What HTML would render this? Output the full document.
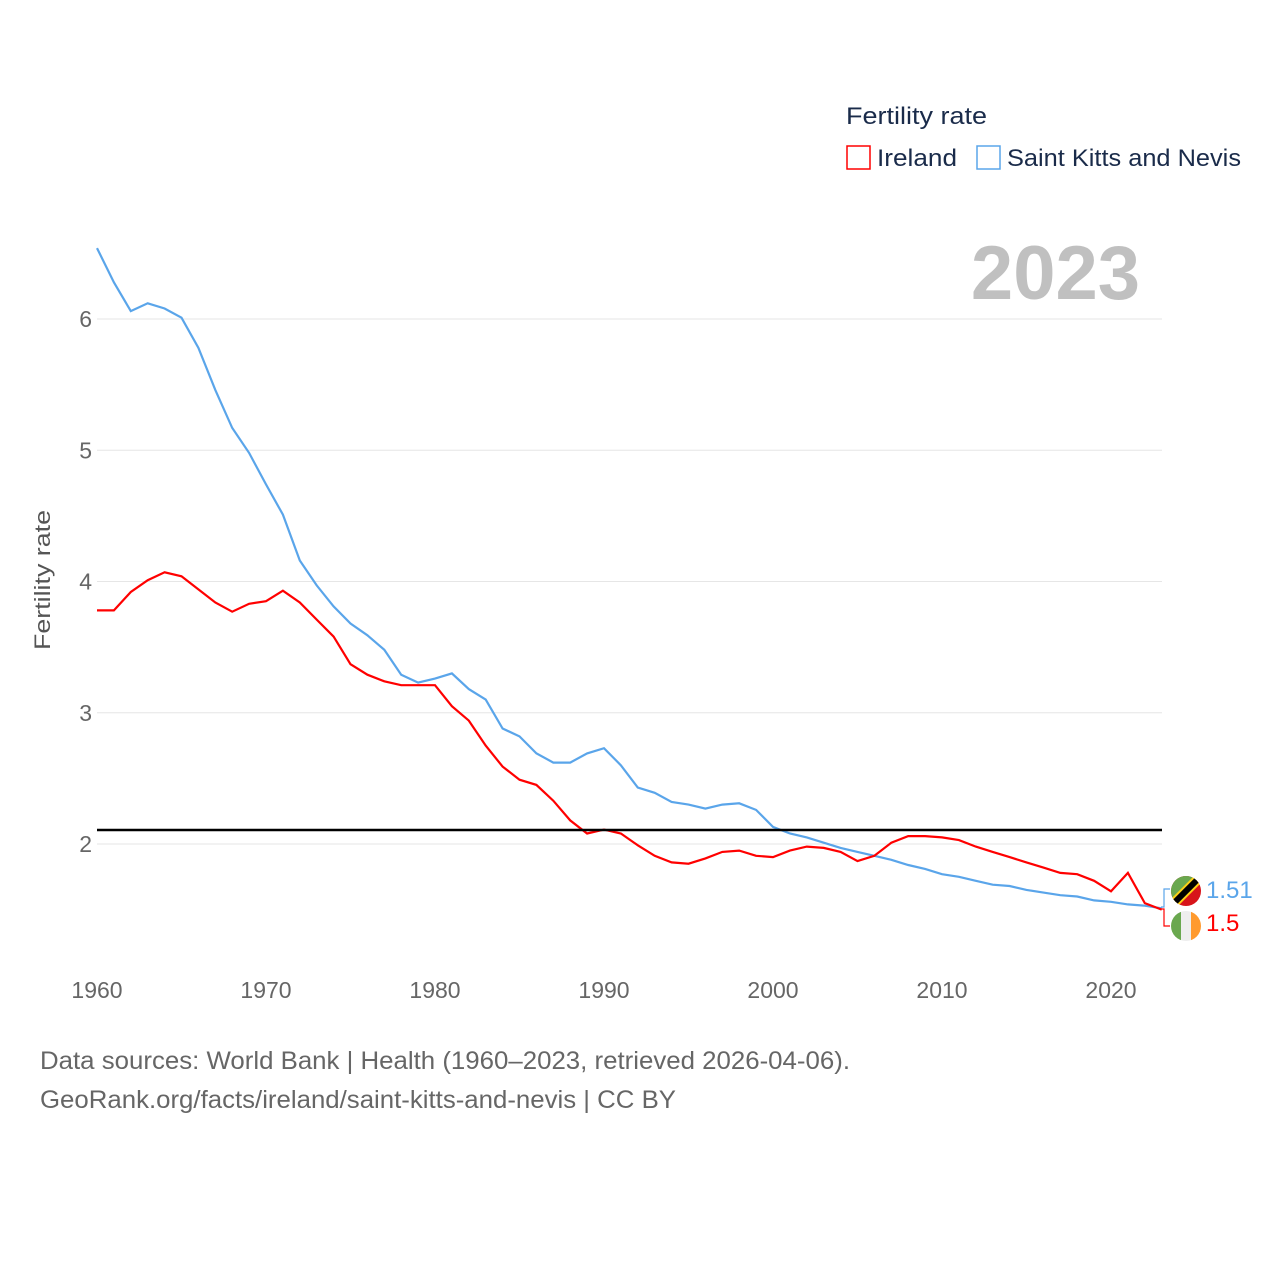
<!DOCTYPE html>
<html><head><meta charset="utf-8"><style>
body{margin:0;background:#fff;font-family:"Liberation Sans",sans-serif;}
svg text{font-family:"Liberation Sans",sans-serif;}
</style></head><body>
<svg width="1280" height="1280" viewBox="0 0 1280 1280">
<g id="grid"></g>
<text x="50" y="580" font-size="22" fill="#555" transform="rotate(-90 50 580)" text-anchor="middle" textLength="140" lengthAdjust="spacingAndGlyphs" dy="0">Fertility rate</text>
<text x="1140" y="299" font-size="76" font-weight="bold" fill="#c0c0c0" text-anchor="end">2023</text>
<text x="846" y="124" font-size="24" fill="#1a2b4a" textLength="141" lengthAdjust="spacingAndGlyphs">Fertility rate</text>
<g><rect x="847" y="146" width="23" height="23" fill="none" stroke="#f00" stroke-width="1.5"/><text x="877" y="166" font-size="24" fill="#1a2b4a" textLength="80" lengthAdjust="spacingAndGlyphs">Ireland</text></g>
<g><rect x="977" y="146" width="23" height="23" fill="none" stroke="#5aa5ea" stroke-width="1.5"/><text x="1007" y="166" font-size="24" fill="#1a2b4a" textLength="234" lengthAdjust="spacingAndGlyphs">Saint Kitts and Nevis</text></g>
<g id="series"></g>
<line x1="97" x2="1162" y1="830" y2="830" stroke="#000" stroke-width="2.5"/>
<g>
<path d="M1161 907 H1164 V889 H1170" fill="none" stroke="#5aa5ea" stroke-width="1.2"/>
<path d="M1161 909 H1164 V926 H1170" fill="none" stroke="#f00" stroke-width="1.2"/>
<defs><clipPath id="c1"><circle cx="1186" cy="891" r="15"/></clipPath><clipPath id="c2"><circle cx="1186" cy="926" r="15"/></clipPath></defs>
<g clip-path="url(#c1)"><rect x="1170" y="875" width="32" height="32" fill="#d7141a"/><polygon points="1170,875 1202,875 1170,907" fill="#6aa84f"/><line x1="1172" y1="905" x2="1200" y2="877" stroke="#fcd116" stroke-width="10"/><line x1="1172" y1="905" x2="1200" y2="877" stroke="#000" stroke-width="6"/></g>
<g clip-path="url(#c2)"><rect x="1170" y="910" width="11" height="32" fill="#6aa84f"/><rect x="1181" y="910" width="10" height="32" fill="#eee"/><rect x="1191" y="910" width="11" height="32" fill="#ff9a2e"/></g>
<text x="1206" y="898" font-size="24" fill="#5aa5ea">1.51</text>
<text x="1206" y="931" font-size="24" fill="#f00">1.5</text>
</g>
<text x="40" y="1069" font-size="25" fill="#666" textLength="810" lengthAdjust="spacingAndGlyphs">Data sources: World Bank | Health (1960–2023, retrieved 2026-04-06).</text>
<text x="40" y="1108" font-size="25" fill="#666" textLength="636" lengthAdjust="spacingAndGlyphs">GeoRank.org/facts/ireland/saint-kitts-and-nevis | CC BY</text>
</svg>
<script>
const years=[];for(let y=1960;y<=2023;y++)years.push(y);
const yTicks=[2,3,4,5,6];
const xTicks=[1960,1970,1980,1990,2000,2010,2020];
const skn=[6.54,6.28,6.06,6.12,6.08,6.01,5.78,5.46,5.17,4.98,4.74,4.51,4.16,3.97,3.81,3.68,3.59,3.48,3.29,3.23,3.26,3.30,3.18,3.10,2.88,2.82,2.69,2.62,2.62,2.69,2.73,2.60,2.43,2.39,2.32,2.30,2.27,2.30,2.31,2.26,2.13,2.08,2.05,2.01,1.97,1.94,1.91,1.88,1.84,1.81,1.77,1.75,1.72,1.69,1.68,1.65,1.63,1.61,1.60,1.57,1.56,1.54,1.53,1.51];
const ireland=[3.78,3.78,3.92,4.01,4.07,4.04,3.94,3.84,3.77,3.83,3.85,3.93,3.84,3.71,3.58,3.37,3.29,3.24,3.21,3.21,3.21,3.05,2.94,2.75,2.59,2.49,2.45,2.33,2.18,2.08,2.11,2.08,1.99,1.91,1.86,1.85,1.89,1.94,1.95,1.91,1.90,1.95,1.98,1.97,1.94,1.87,1.91,2.01,2.06,2.06,2.05,2.03,1.98,1.94,1.90,1.86,1.82,1.78,1.77,1.72,1.64,1.78,1.55,1.50];
const X=y=>97+(y-1960)*16.9;
const Y=v=>844-(v-2)*131.25;
const NS='http://www.w3.org/2000/svg';
const grid=document.getElementById('grid');
yTicks.forEach(t=>{
 const l=document.createElementNS(NS,'line');
 l.setAttribute('x1',97);l.setAttribute('x2',1162);l.setAttribute('y1',Y(t));l.setAttribute('y2',Y(t));
 l.setAttribute('stroke','#e6e6e6');
 
 
 grid.appendChild(l);
 const tx=document.createElementNS(NS,'text');
 tx.setAttribute('x',92);tx.setAttribute('y',Y(t)+8);tx.setAttribute('text-anchor','end');
 tx.setAttribute('font-size','23');tx.setAttribute('fill','#666');tx.textContent=t;
 
 
 grid.appendChild(tx);
});
xTicks.forEach(t=>{
 const tx=document.createElementNS(NS,'text');
 tx.setAttribute('x',X(t));tx.setAttribute('y',998);tx.setAttribute('text-anchor','middle');
 tx.setAttribute('font-size','23');tx.setAttribute('fill','#666');tx.textContent=t;
 
 
 grid.appendChild(tx);
});
const g=document.getElementById('series');
function line(vals,color,name){
 const p=document.createElementNS(NS,'path');
 p.setAttribute('d',vals.map((v,i)=>(i?'L':'M')+X(years[i]).toFixed(1)+' '+Y(v).toFixed(1)).join(' '));
 p.setAttribute('fill','none');p.setAttribute('stroke',color);p.setAttribute('stroke-width','2.2');
 
 
 g.appendChild(p);
}
line(skn,'#5aa5ea','saint-kitts-line');
line(ireland,'#f00','ireland-line');
</script>
</body></html>
